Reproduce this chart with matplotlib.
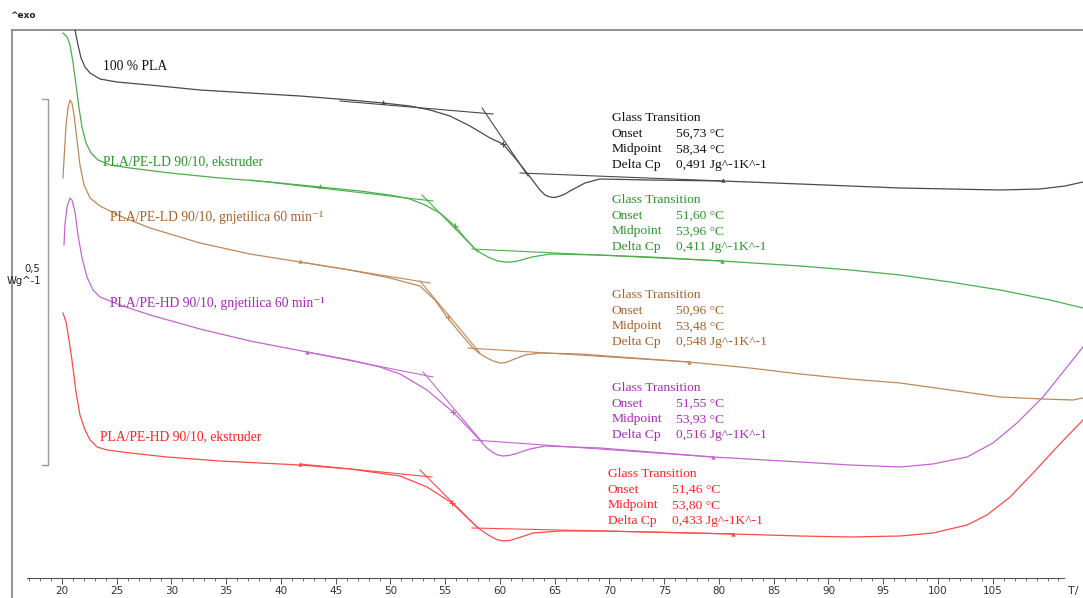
import numpy as np
import matplotlib.pyplot as plt
from matplotlib.ticker import FixedLocator

# ---------------------------------------------------------------
# DSC thermograms, T in degC, heat flow in display units (exo up,
# curves shifted vertically). 0.5 Wg^-1 = 3.66 display units.
# ---------------------------------------------------------------
UNITS_PER_HALF_WG = 3.66

# 100 % PLA
t_pla = [21.19, 21.46, 21.74, 22.10, 22.56, 23.47, 25.02, 28.95, 32.60, 37.17, 41.74, 46.30,
         49.32, 51.78, 53.61, 55.43, 57.26, 59.09, 60.27, 61.37, 62.47, 63.65, 64.11, 64.57,
         65.02, 65.48, 65.94, 66.39, 67.76, 69.13, 73.70, 80.37, 87.40, 91.96, 96.53, 101.10,
         105.66, 109.32, 111.60, 113.24]
hf_pla = [5.68, 5.53, 5.40, 5.31, 5.25, 5.19, 5.16, 5.12, 5.08, 5.05, 5.02, 4.98,
          4.95, 4.92, 4.88, 4.82, 4.72, 4.60, 4.54, 4.40, 4.25, 4.08, 4.03, 4.01,
          4.005, 4.02, 4.04, 4.07, 4.15, 4.19, 4.18, 4.17, 4.14, 4.12, 4.10, 4.09,
          4.08, 4.09, 4.12, 4.16]

# PLA/PE-LD 90/10, ekstruder
t_ld_ext = [20.09, 20.46, 20.73, 21.00, 21.28, 21.55, 21.83, 22.19, 22.65, 23.29, 24.38, 26.21,
            29.86, 34.43, 38.99, 43.56, 47.21, 49.95, 51.78, 53.15, 54.52, 55.89, 56.80, 57.72,
            58.40, 59.09, 59.80, 60.46, 61.05, 61.64, 62.92, 64.57, 69.13, 73.70, 80.27, 87.40,
            91.96, 96.53, 101.10, 105.66, 110.23, 113.24]
hf_ld_ext = [5.65, 5.61, 5.53, 5.36, 5.13, 4.90, 4.71, 4.55, 4.45, 4.38, 4.33, 4.30,
             4.25, 4.20, 4.16, 4.11, 4.07, 4.03, 3.99, 3.93, 3.85, 3.72, 3.60, 3.49,
             3.44, 3.40, 3.37, 3.36, 3.36, 3.37, 3.41, 3.44, 3.43, 3.41, 3.37, 3.32,
             3.28, 3.23, 3.16, 3.08, 2.98, 2.90]

# PLA/PE-LD 90/10, gnjetilica
t_ld_kn = [20.09, 20.18, 20.37, 20.55, 20.73, 20.91, 21.10, 21.37, 21.64, 22.01, 22.56, 23.47,
           25.30, 28.04, 32.60, 37.17, 41.74, 46.30, 49.95, 52.69, 54.06, 55.16, 56.35, 57.53,
           58.20, 58.81, 59.40, 60.00, 60.55, 61.10, 62.28, 63.65, 67.31, 70.96, 77.26, 82.83,
           87.40, 91.96, 96.53, 101.10, 105.66, 109.59, 112.33, 113.24]
hf_ld_kn = [4.20, 4.38, 4.73, 4.90, 4.98, 4.95, 4.83, 4.58, 4.33, 4.13, 4.00, 3.92,
            3.82, 3.70, 3.55, 3.44, 3.36, 3.28, 3.20, 3.12, 2.98, 2.81, 2.65, 2.50,
            2.44, 2.40, 2.37, 2.35, 2.355, 2.38, 2.43, 2.45, 2.44, 2.41, 2.36, 2.30,
            2.24, 2.19, 2.15, 2.08, 2.01, 1.99, 1.98, 2.00]

# PLA/PE-HD 90/10, gnjetilica
t_hd_kn = [20.18, 20.27, 20.46, 20.73, 20.91, 21.19, 21.46, 21.83, 22.28, 22.83, 23.47, 25.30,
           28.04, 32.60, 37.17, 42.37, 46.30, 49.04, 50.87, 53.33, 55.71, 58.17, 58.70, 59.27,
           59.80, 60.27, 60.80, 61.37, 62.74, 64.11, 69.13, 73.70, 79.45, 87.40, 91.96, 96.53,
           99.54, 102.65, 105.02, 107.21, 109.59, 111.78, 113.24]
hf_hd_kn = [3.53, 3.73, 3.91, 4.00, 3.98, 3.86, 3.63, 3.40, 3.21, 3.08, 3.01, 2.93,
            2.83, 2.69, 2.57, 2.46, 2.38, 2.31, 2.24, 2.08, 1.86, 1.58, 1.51, 1.46,
            1.43, 1.42, 1.425, 1.44, 1.49, 1.52, 1.50, 1.46, 1.41, 1.36, 1.33, 1.31,
            1.34, 1.41, 1.55, 1.75, 2.01, 2.31, 2.51]

# PLA/PE-HD 90/10, ekstruder
t_hd_ext = [20.09, 20.37, 20.64, 20.91, 21.28, 21.64, 22.10, 22.56, 23.20, 24.11, 26.21, 29.59,
            34.43, 41.74, 46.30, 50.87, 53.33, 55.62, 57.90, 58.50, 59.09, 59.70, 60.27, 60.90,
            61.64, 63.01, 65.48, 69.13, 73.70, 81.28, 87.40, 91.96, 96.53, 99.54, 102.65,
            104.47, 106.58, 108.68, 110.87, 113.24]
hf_hd_ext = [2.85, 2.76, 2.58, 2.38, 2.06, 1.83, 1.68, 1.58, 1.51, 1.48, 1.45, 1.41,
             1.37, 1.33, 1.29, 1.22, 1.11, 0.95, 0.71, 0.66, 0.62, 0.585, 0.57, 0.575,
             0.60, 0.65, 0.67, 0.67, 0.66, 0.64, 0.62, 0.61, 0.62, 0.65, 0.73,
             0.83, 1.01, 1.25, 1.51, 1.78]

# evaluation tangents: (T start, T end), (hf start, hf end)
tan_pla = [((45.39, 59.36), (4.97, 4.84)), ((58.36, 62.56), (4.90, 4.22)), ((61.83, 80.37), (4.25, 4.17))]
tan_ld_ext = [((37.17, 53.88), (4.18, 3.97)), ((52.88, 57.99), (4.03, 3.46)), ((57.44, 80.27), (3.49, 3.37))]
tan_ld_kn = [((41.74, 53.61), (3.36, 3.15)), ((52.69, 58.17), (3.17, 2.45)), ((57.08, 77.26), (2.50, 2.36))]
tan_hd_kn = [((42.37, 53.88), (2.46, 2.21)), ((52.97, 58.36), (2.26, 1.56)), ((57.53, 79.45), (1.58, 1.41))]
tan_hd_ext = [((41.74, 53.79), (1.34, 1.21)), ((52.69, 57.99), (1.28, 0.70)), ((57.44, 81.28), (0.70, 0.64))]

# baseline limit flags and midpoint crosses
flag_t = [(49.32, 80.37), (43.56, 80.27), (41.74, 77.26), (42.37, 79.45), (41.74, 81.28)]
flag_hf = [(4.96, 4.18), (4.12, 3.37), (3.37, 2.36), (2.46, 1.41), (1.34, 0.64)]
mid_t = [60.27, 55.89, 55.25, 55.71, 55.62]
mid_hf = [4.54, 3.72, 2.81, 1.86, 0.95]

labels = ['100 % PLA', 'PLA/PE-LD 90/10, ekstruder', 'PLA/PE-LD 90/10, gnjetilica 60 min\u207b\u00b9',
          'PLA/PE-HD 90/10, gnjetilica 60 min\u207b\u00b9', 'PLA/PE-HD 90/10, ekstruder']
onsets = [56.73, 51.60, 50.96, 51.55, 51.46]
midpoints = [58.34, 53.96, 53.48, 53.93, 53.80]
delta_cp = [0.491, 0.411, 0.548, 0.516, 0.433]

xticks = list(range(20, 110, 5))

# ---------------------------------------------------------------
line_cols = ['#4a4a4a', '#4cae4c', '#bf8a5a', '#c466d2', '#ff4a4a']
text_cols = ['#111111', '#2a962a', '#a8602a', '#a828b8', '#ff2020']
curves = [(t_pla, hf_pla), (t_ld_ext, hf_ld_ext), (t_ld_kn, hf_ld_kn), (t_hd_kn, hf_hd_kn), (t_hd_ext, hf_hd_ext)]
tangents = [tan_pla, tan_ld_ext, tan_ld_kn, tan_hd_kn, tan_hd_ext]

W, H = 1083, 598
fig = plt.figure(figsize=(W / 100, H / 100), dpi=100)
ax = fig.add_axes([0, 0, 1, 1])
ax.set_xlim(14.338, 113.242)
ax.set_ylim(0, 5.98)

def px(x, y):
    return x / W, 1 - y / H

serif = ['Liberation Serif', 'DejaVu Serif']

for i in range(5):
    t, hf = curves[i]
    ax.plot(t, hf, color=line_cols[i], lw=0.9, solid_joinstyle='round', zorder=3)
    for (tt, hh) in tangents[i]:
        ax.plot(tt, hh, color=line_cols[i], lw=0.8, zorder=2)
    ax.plot(flag_t[i], flag_hf[i], ls='none', marker='^', ms=3.2, color=line_cols[i], mew=0, zorder=4)
    ax.plot(mid_t[i], mid_hf[i], ls='none', marker='+', ms=5, mew=0.8, color=line_cols[i], zorder=4)

# sample labels
label_pos = [(103, 67), (103, 162), (110, 218), (110, 303), (100, 437)]
for i in range(5):
    ax.text(*px(*label_pos[i]), labels[i], transform=ax.transAxes, color=text_cols[i],
            family=serif, fontsize=9.8, va='center', ha='left')

# glass transition result blocks
block_pos = [(612, 118), (612, 200), (612, 295), (612, 388), (608, 474)]
dy = 15.7
for i in range(5):
    bx, by = block_pos[i]
    rows = [('Glass Transition', ''),
            ('Onset', f'{onsets[i]:.2f} \u00b0C'.replace('.', ',')),
            ('Midpoint', f'{midpoints[i]:.2f} \u00b0C'.replace('.', ',')),
            ('Delta Cp', f'{delta_cp[i]:.3f} Jg^-1K^-1'.replace('.', ','))]
    for k, (name, val) in enumerate(rows):
        ax.text(*px(bx, by + k * dy), name, transform=ax.transAxes, color=text_cols[i],
                family=serif, fontsize=9.7, va='center')
        if val:
            ax.text(*px(bx + 64, by + k * dy), val, transform=ax.transAxes, color=text_cols[i],
                    family=serif, fontsize=9.7, va='center')

# frame
frame_col = '#8a8a8a'
ax.plot([12 / W, 1], [1 - 30 / H] * 2, transform=ax.transAxes, color=frame_col, lw=1.3, clip_on=False)
ax.plot([12 / W] * 2, [0, 1 - 30 / H], transform=ax.transAxes, color=frame_col, lw=1.3, clip_on=False)

# 0,5 Wg^-1 scale bar
bar_top = 4.99
bar_x = 18.72
ax.plot([18.17, bar_x, bar_x, 18.17], [bar_top, bar_top, bar_top - UNITS_PER_HALF_WG, bar_top - UNITS_PER_HALF_WG],
        color='#999999', lw=1.0)
ax.text(*px(40, 269), '0,5', transform=ax.transAxes, ha='right', va='center', fontsize=7.2, color='#222222')
ax.text(*px(41, 281), 'Wg^-1', transform=ax.transAxes, ha='right', va='center', fontsize=7.2, color='#222222')
ax.text(*px(10, 16), '^exo', transform=ax.transAxes, ha='left', va='center', fontsize=6.5,
        color='#222222', weight='bold')

# temperature axis
for s in ['top', 'right', 'left']:
    ax.spines[s].set_visible(False)
ax.spines['bottom'].set_position(('data', 0.20))
ax.spines['bottom'].set_bounds(16.8, 111.5)
ax.spines['bottom'].set_color('#555555')
ax.spines['bottom'].set_linewidth(0.8)
ax.set_xticks(xticks)
ax.xaxis.set_minor_locator(FixedLocator(np.arange(17, 112, 1)))
ax.tick_params('x', which='major', direction='out', length=4, width=0.7, color='#555555',
               labelsize=7.5, labelcolor='#333333', pad=2)
ax.tick_params('x', which='minor', direction='out', length=2.5, width=0.6, color='#555555')
ax.set_yticks([])
ax.text(*px(1068, 591), 'T/', transform=ax.transAxes, ha='left', va='center', fontsize=8, color='#333333')

fig.savefig('out.png', dpi=100)
